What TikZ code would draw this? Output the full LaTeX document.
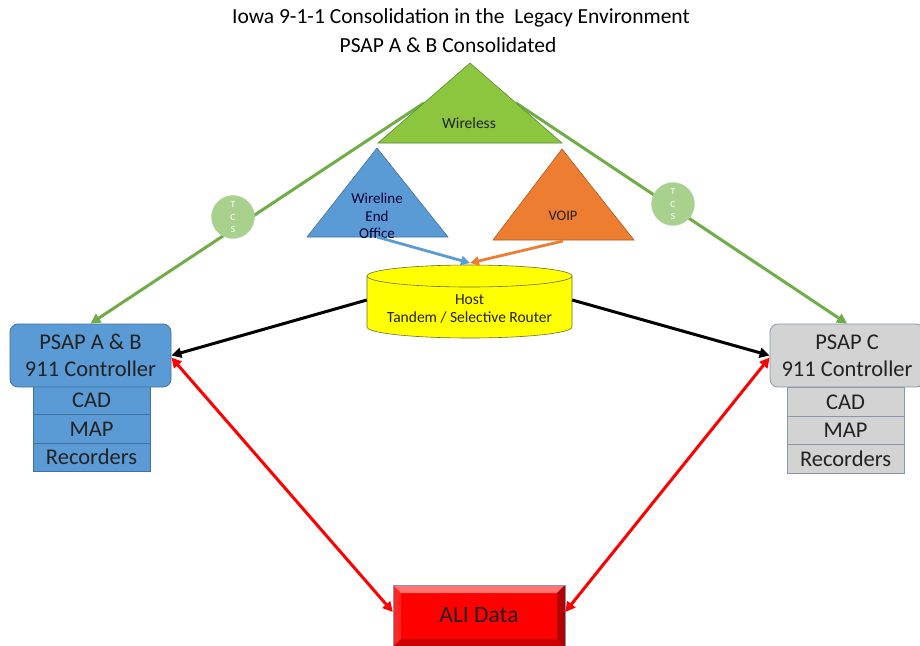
\documentclass[tikz,border=0pt]{standalone}
\usepackage{fontspec}
\setmainfont{Carlito}
\usetikzlibrary{arrows.meta}

\definecolor{textgray}{HTML}{222222}
\definecolor{wlgreen}{HTML}{8CC63F}
\definecolor{linegreen}{HTML}{70AD47}
\definecolor{tcsgreen}{HTML}{A9D18E}
\definecolor{wireblue}{HTML}{5B9BD5}
\definecolor{blueedge}{HTML}{41719C}
\definecolor{voiporange}{HTML}{ED7D31}
\definecolor{orangeedge}{HTML}{AE5A21}
\definecolor{hostyellow}{HTML}{FFFF00}
\definecolor{hostedge}{HTML}{6B6B3A}
\definecolor{psapgray}{HTML}{D3D3D3}
\definecolor{grayedge}{HTML}{8497B0}
\definecolor{alired}{HTML}{FF0000}

\begin{document}
\begin{tikzpicture}[x=1pt,y=-1pt,
    every node/.style={inner sep=0pt, text=textgray},
    psap/.style={draw, rounded corners=8pt, minimum height=63pt, align=center,
        font=\fontsize{22.5}{27}\selectfont, line width=0.8pt},
    subbox/.style={draw, minimum width=117pt, font=\fontsize{22.5}{24}\selectfont, line width=0.8pt},
    tcs/.style={circle, fill=tcsgreen, draw=linegreen!50, minimum size=43pt, align=center,
        text=white, font=\fontsize{9.5}{12.5}\selectfont},
    feed/.style={line width=3pt, -{Triangle[length=10pt,width=10pt]}},
    alilink/.style={line width=3pt, {Triangle[length=10pt,width=10pt]}-{Triangle[length=10pt,width=10pt]}},
    tri/.style={line width=0.6pt}
]
    \useasboundingbox[fill=white] (0,0) rectangle (920,645);

    % Title
    \node[font=\fontsize{21.5}{24}\selectfont, text=black] (title) at (461,18)
        {Iowa 9-1-1 Consolidation in the\ \ Legacy Environment};
    \node[font=\fontsize{21.5}{24}\selectfont, text=black] (subtitle) at (448,45)
        {PSAP A \& B Consolidated};

    % PSAP A & B
    \foreach \t/\n [count=\i from 0] in {CAD/cad, MAP/map, Recorders/rec} {
        \node[subbox, fill=wireblue, draw=blueedge, minimum height=28.3pt] (ab\n) at (91.5,400.5+28.3*\i) {\t};
    }
    \node[psap, fill=wireblue, draw=blueedge, minimum width=161pt] (psapab) at (90.5,355.5)
        {PSAP A \& B\\911 Controller};

    % PSAP C
    \foreach \t/\n [count=\i from 0] in {CAD/cad, MAP/map, Recorders/rec} {
        \node[subbox, fill=psapgray, draw=grayedge, minimum height=28.5pt] (c\n) at (845.5,402+28.5*\i) {\t};
    }
    \node[psap, fill=psapgray, draw=grayedge, minimum width=154pt] (psapc) at (847,355.5)
        {PSAP C\\911 Controller};

    % Trunks from wireless
    \coordinate (wlL) at (424,103);
    \coordinate (wlR) at (516,103);
    \draw[feed, linegreen] (wlL) -- (psapab.north);
    \draw[feed, linegreen] (wlR) -- (psapc.north);
    \node[tcs] (tcsL) at (233,217) {T\\C\\S};
    \node[tcs] (tcsR) at (673,204) {T\\C\\S};

    % Sources
    \draw[tri, fill=wlgreen, draw=linegreen!80!black] (470,63) -- (562,143) -- (378,143) -- cycle;
    \node[font=\fontsize{15.5}{18}\selectfont] (wireless) at (469,123) {Wireless};
    \draw[tri, fill=wireblue, draw=blueedge] (377,148) -- (448,237) -- (307,237) -- cycle;
    \node[font=\fontsize{15}{17.5}\selectfont, align=center, text=black!80!blue] (wireline) at (377,216)
        {Wireline\\End\\Office};
    \draw[tri, fill=voiporange, draw=orangeedge] (562,149) -- (634,240) -- (493,240) -- cycle;
    \node[font=\fontsize{14.5}{17}\selectfont] (voip) at (563,216) {VOIP};
    \coordinate (wireO) at (377,237);
    \coordinate (voipO) at (563,241);

    % Host tandem
    \draw[fill=hostyellow, draw=hostedge, line width=0.6pt] (367,276) -- (367,327)
        arc[start angle=180, end angle=0, x radius=102.5, y radius=11] -- (572,276) -- cycle;
    \draw[fill=hostyellow, draw=hostedge, line width=0.6pt] (469.5,276) ellipse [x radius=102.5, y radius=11];
    \node[minimum width=205pt, minimum height=62pt, align=center, font=\fontsize{15.5}{18.5}\selectfont]
        (host) at (469.5,309) {Host\\Tandem / Selective Router};
    \coordinate (hosttop) at (470,263);
    \draw[line width=2.8pt, wireblue, -{Triangle[length=9pt,width=9pt]}] (wireO) -- (hosttop);
    \draw[line width=2.8pt, voiporange, -{Triangle[length=9pt,width=9pt]}] (voipO) -- (hosttop);

    % ALI database
    \fill[alired] (393,585) rectangle (565,647);
    \fill[red!55!white] (393,585) -- (565,585) -- (557,593) -- (401,593) -- cycle;
    \fill[red!85!white] (393,585) -- (401,593) -- (401,639) -- (393,647) -- cycle;
    \fill[red!70!black] (565,585) -- (557,593) -- (557,639) -- (565,647) -- cycle;
    \fill[red!80!black] (393,647) -- (401,639) -- (557,639) -- (565,647) -- cycle;
    \draw[grayedge, line width=0.6pt] (393,585) rectangle (565,647);
    \node[minimum width=172pt, minimum height=62pt, font=\fontsize{23.5}{26}\selectfont] (ali) at (479,615) {ALI Data};

    % Links
    \draw[feed, black] ([yshift=9pt]host.west) -- (psapab.east);
    \draw[feed, black] ([yshift=9pt]host.east) -- (psapc.west);
    \draw[alilink, alired] ([yshift=-2pt]psapab.east) -- ([yshift=3pt]ali.west);
    \draw[alilink, alired] ([yshift=-2pt]psapc.west) -- ([yshift=3pt]ali.east);
\end{tikzpicture}
\end{document}
